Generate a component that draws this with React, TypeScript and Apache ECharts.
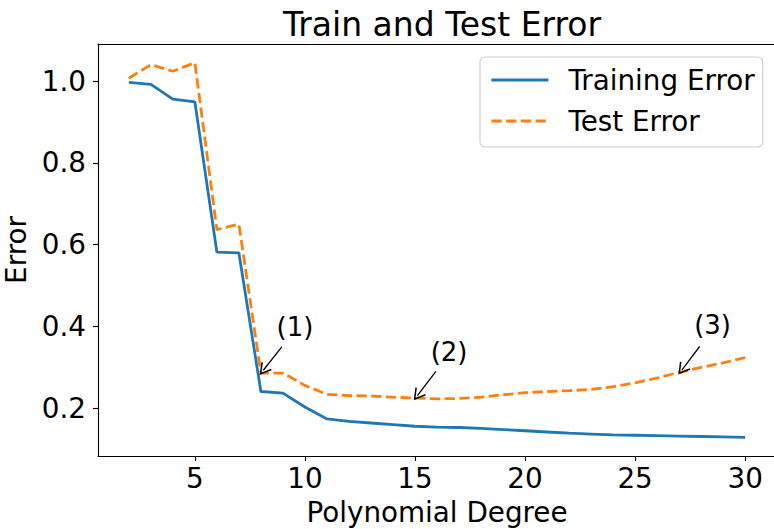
import React, { useEffect, useRef } from "react";
import * as echarts from "echarts";

const degrees = [2,3,4,5,6,7,8,9,10,11,12,13,14,15,16,17,18,19,20,21,22,23,24,25,26,27,28,29,30];
const trainingError = [0.997,0.992,0.956,0.949,0.582,0.580,0.241,0.237,0.203,0.174,0.168,0.164,0.160,0.156,0.154,0.153,0.151,0.148,0.145,0.142,0.139,0.137,0.135,0.134,0.133,0.132,0.131,0.130,0.129];
const testError = [1.007,1.040,1.024,1.045,0.637,0.650,0.286,0.286,0.256,0.234,0.231,0.230,0.227,0.225,0.223,0.224,0.227,0.233,0.238,0.241,0.243,0.246,0.253,0.262,0.274,0.288,0.300,0.311,0.324];
const xTicks = [5, 10, 15, 20, 25, 30];
const yTicks = [0.2, 0.4, 0.6, 0.8, 1.0];
const annotationLabels = ["(1)", "(2)", "(3)"];
const annotationTips = [[8.11, 0.293], [15.11, 0.231], [27.13, 0.294]];
const annotationTails = [[8.95, 0.35], [15.95, 0.29], [27.93, 0.351]];
const annotationTexts = [[9.55, 0.398], [16.55, 0.337], [28.52, 0.403]];

const FONT = "DejaVu Sans";
const X_MIN = 0.6;
const X_MAX = 31.4;

export default function App() {
  const ref = useRef<HTMLDivElement>(null);
  useEffect(() => {
    if (!ref.current) return;
    const chart = echarts.init(ref.current, null, { renderer: "svg" });
    const arrowHead = "path://M0,0 L6,10 L4.8,10.8 L0,2.6 L-4.8,10.8 L-6,10 Z";
    chart.setOption({
      animation: false,
      backgroundColor: "#fff",
      title: {
        text: "Train and Test Error",
        left: 437,
        textAlign: "center",
        top: 3,
        textStyle: { fontFamily: FONT, fontSize: 33, fontWeight: "normal", color: "#000" },
      },
      grid: {
        left: 98,
        top: 44,
        right: -2,
        bottom: 73,
        containLabel: false,
        outerBoundsMode: "none",
        show: false,
      },
      legend: {
        left: 480,
        top: 57,
        orient: "vertical",
        data: ["Training Error", "Test Error"],
        itemWidth: 57,
        itemHeight: 14,
        itemGap: 13,
        padding: [9, 8, 12, 10],
        borderColor: "#d0d0d0",
        borderWidth: 1.2,
        borderRadius: 5,
        backgroundColor: "rgba(255,255,255,0.8)",
        itemStyle: { opacity: 0 },
        lineStyle: { width: 2.8 },
        textStyle: { fontFamily: FONT, fontSize: 27.8, color: "#000", padding: [0, 0, 0, 15] },
      },
      xAxis: [
        {
          type: "value",
          min: X_MIN,
          max: X_MAX,
          name: "Polynomial Degree",
          nameLocation: "middle",
          nameGap: 42,
          nameTextStyle: { fontFamily: FONT, fontSize: 27.8, color: "#000" },
          axisLine: { show: true, onZero: false, lineStyle: { color: "#000", width: 1.1 } },
          axisTick: { show: true, length: 5, lineStyle: { color: "#000", width: 1.1 }, customValues: xTicks },
          axisLabel: {
            fontFamily: FONT,
            fontSize: 27.8,
            color: "#000",
            margin: 8,
            customValues: xTicks,
            formatter: (v: number) => String(v),
          },
          splitLine: { show: false },
        },
        {
          type: "value",
          position: "top",
          min: X_MIN,
          max: X_MAX,
          axisLine: { show: true, onZero: false, lineStyle: { color: "#000", width: 1.1 } },
          axisTick: { show: false },
          axisLabel: { show: false },
          splitLine: { show: false },
        },
      ],
      yAxis: {
        type: "value",
        min: 0.0833,
        max: 1.0906,
        name: "Error",
        nameLocation: "middle",
        nameGap: 55,
        nameTextStyle: { fontFamily: FONT, fontSize: 27.8, color: "#000" },
        axisLine: { show: true, onZero: false, lineStyle: { color: "#000", width: 1.1 } },
        axisTick: { show: true, length: 5, lineStyle: { color: "#000", width: 1.1 }, customValues: yTicks },
        axisLabel: {
          fontFamily: FONT,
          fontSize: 27.8,
          color: "#000",
          margin: 12,
          customValues: yTicks,
          formatter: (v: number) => v.toFixed(1),
        },
        splitLine: { show: false },
      },
      series: [
        {
          name: "Training Error",
          type: "line",
          data: degrees.map((d, i) => [d, trainingError[i]]),
          showSymbol: false,
          symbol: "none",
          lineStyle: { color: "#1f77b4", width: 2.8 },
          itemStyle: { color: "#1f77b4" },
        },
        {
          name: "Test Error",
          type: "line",
          data: degrees.map((d, i) => [d, testError[i]]),
          showSymbol: false,
          symbol: "none",
          lineStyle: { color: "#ff7f0e", width: 2.8, type: [10.3, 4.4] },
          itemStyle: { color: "#ff7f0e" },
          markLine: {
            silent: true,
            symbol: ["none", arrowHead],
            symbolSize: [13, 12],
            label: { show: false },
            lineStyle: { color: "#000", width: 1.3, type: "solid" },
            itemStyle: { color: "#000" },
            data: annotationTips.map((tip, i) => [
              { coord: annotationTails[i], lineStyle: { color: "#000", type: "solid", width: 1.3 } },
              { coord: tip },
            ]),
          },
        },
        {
          name: "annotations",
          type: "scatter",
          symbolSize: 0,
          silent: true,
          itemStyle: { opacity: 1 },
          data: annotationTexts.map((p, i) => ({ value: p, name: annotationLabels[i] })),
          label: {
            show: true,
            position: "inside",
            formatter: (p: any) => p.name,
            fontFamily: FONT,
            fontSize: 26,
            color: "#000",
            opacity: 1,
          },
        },
      ],
    });
    return () => chart.dispose();
  }, []);
  return <div ref={ref} style={{ position: "fixed", left: 0, top: 0, width: 774, height: 529 }} />;
}
